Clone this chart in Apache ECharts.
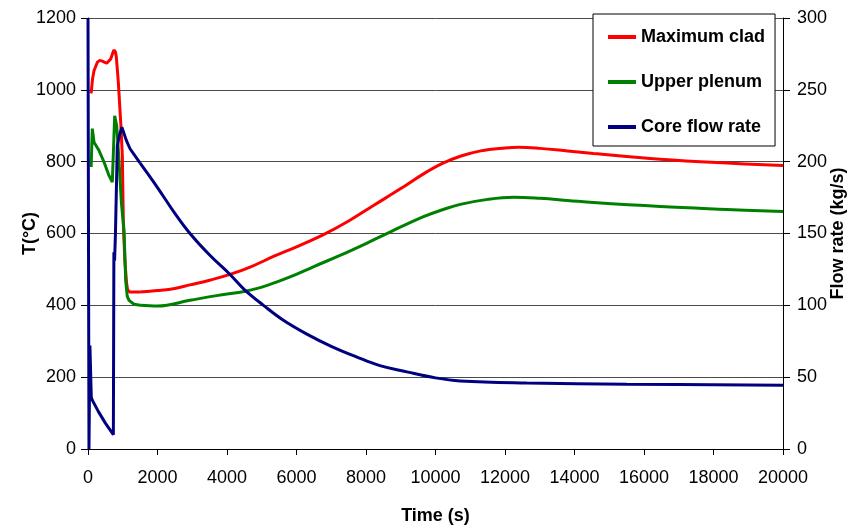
<!DOCTYPE html>
<html>
<head>
<meta charset="utf-8">
<script src="https://cdn.jsdelivr.net/npm/echarts@6/dist/echarts.min.js"></script>
<style>html,body{margin:0;padding:0;background:#fff;}#c{width:858px;height:527px;}</style>
</head>
<body>
<div id="c"></div>
<script>
// [time (s), value]
const maxClad = [
  [90,990],[130,1030],[173,1053],[269,1077],[340,1082],[412,1080],[538,1074],[653,1086],[720,1105],[749,1111],
  [790,1105],[815,1092],[873,1021],[941,910],[988,817],[1018,625],[1060,525],[1110,462],[1140,443],[1200,437],
  [1500,437],[2000,441],[2500,447],[2935,457],[3500,470],[4087,486],[4700,508],[5338,536],[6000,563],[6777,597],
  [7500,635],[8216,678],[9000,725],[9655,766],[10200,795],[10712,815],[11300,830],[12000,838],[12400,840],[13000,837],
  [13800,830],[14546,823],[16466,807],[18384,796],[20000,789]
];
const upperPlenum = [
  [90,785],[124,892],[173,854],[317,831],[461,799],[605,761],[700,743],[730,745],[768,928],[790,925],
  [826,900],[884,817],[960,687],[1037,608],[1085,469],[1130,425],[1181,414],[1325,403],[1500,400],[2000,398],
  [2935,414],[3700,427],[4567,440],[5200,457],[5813,479],[6500,508],[7252,539],[8000,572],[8691,604],[9655,647],
  [10200,666],[10712,681],[11500,695],[12250,701],[13000,698],[13800,692],[14546,686],[16466,675],[18384,667],[20000,661]
];
const coreFlow = [
  [0,300],[28,0],[40,0],[55,72],[95,36],[124,34],[300,26],[500,18],[730,10],[745,137],
  [765,131],[790,150],[843,211],[900,218],[975,224],[1100,215],[1210,209],[1500,199],[2000,182],[2500,164],
  [2935,150],[3500,135],[4087,121.5],[4500,111],[5050,100],[5600,90],[6298,80],[7000,71.5],[7737,64],[8400,58],
  [9176,53.7],[10000,49.5],[10712,47.4],[12628,46],[15506,45.1],[20000,44.4]
];
const seriesNames = ['Maximum clad','Upper plenum','Core flow rate'];
const seriesColors = ['#ff0000','#008000','#000080'];
const xTicks = {min:0, max:20000, interval:2000};
const tTicks = {min:0, max:1200, interval:200};
const fTicks = {min:0, max:300, interval:50};
const SPLIT_T = 1500; // fast transient drawn straight, slow part drawn smooth

const FONT = '"Liberation Sans", Arial, sans-serif';
const chart = echarts.init(document.getElementById('c'), null, {renderer:'canvas'});
const plain = v => String(v);
const axisText = {color:'#000', fontSize:18, fontFamily:FONT, formatter:plain};
const nameText = {color:'#000', fontSize:18, fontWeight:'bold', fontFamily:FONT};

function mk(name, color, data, axis){
  const early = data.filter(p => p[0] <= SPLIT_T);
  const late = data.filter(p => p[0] >= SPLIT_T);
  const base = {name, type:'line', showSymbol:false, symbol:'none', yAxisIndex:axis,
    lineStyle:{color, width:3}, itemStyle:{color}};
  return [Object.assign({}, base, {data:early, smooth:false}),
          Object.assign({}, base, {data:late, smooth:0.4})];
}
const series = [].concat(
  mk(seriesNames[0], seriesColors[0], maxClad, 0),
  mk(seriesNames[1], seriesColors[1], upperPlenum, 0),
  mk(seriesNames[2], seriesColors[2], coreFlow, 1)
);

chart.setOption({
  animation:false,
  backgroundColor:'#fff',
  grid:{left:88, right:75, top:18, bottom:78, containLabel:false, outerBoundsMode:'none'},
  legend:{
    orient:'vertical', left:593, top:14,
    padding:[13,10,9,15], itemGap:25,
    itemWidth:28, itemHeight:4, icon:'rect',
    backgroundColor:'#fff', borderColor:'#000', borderWidth:1,
    textStyle:{fontSize:18, fontWeight:'bold', fontFamily:FONT, color:'#000', lineHeight:20},
    data:seriesNames
  },
  xAxis:{
    type:'value', min:xTicks.min, max:xTicks.max, interval:xTicks.interval,
    name:'Time (s)', nameLocation:'middle', nameGap:58, nameMoveOverlap:false, nameTextStyle:nameText,
    axisLine:{show:true, onZero:false, lineStyle:{color:'#000', width:1}},
    axisTick:{show:true, length:6, lineStyle:{color:'#000'}},
    axisLabel:{...axisText, margin:20},
    splitLine:{show:false}
  },
  yAxis:[{
    type:'value', min:tTicks.min, max:tTicks.max, interval:tTicks.interval,
    name:'T(°C)', nameLocation:'middle', nameRotate:90, nameGap:49, nameMoveOverlap:false, nameTextStyle:nameText,
    axisLine:{show:true, lineStyle:{color:'#000', width:1}},
    axisTick:{show:true, length:7, lineStyle:{color:'#000'}},
    axisLabel:{...axisText, margin:12},
    splitLine:{show:true, lineStyle:{color:'#4a4a4a', width:1}}
  },{
    type:'value', position:'right', min:fTicks.min, max:fTicks.max, interval:fTicks.interval,
    name:'Flow rate (kg/s)', nameLocation:'middle', nameRotate:90, nameGap:46, nameMoveOverlap:false, nameTextStyle:nameText,
    axisLine:{show:true, lineStyle:{color:'#000', width:1}},
    axisTick:{show:true, length:7, lineStyle:{color:'#000'}},
    axisLabel:{...axisText, margin:14},
    splitLine:{show:false}
  }],
  series
});
</script>
</body>
</html>
